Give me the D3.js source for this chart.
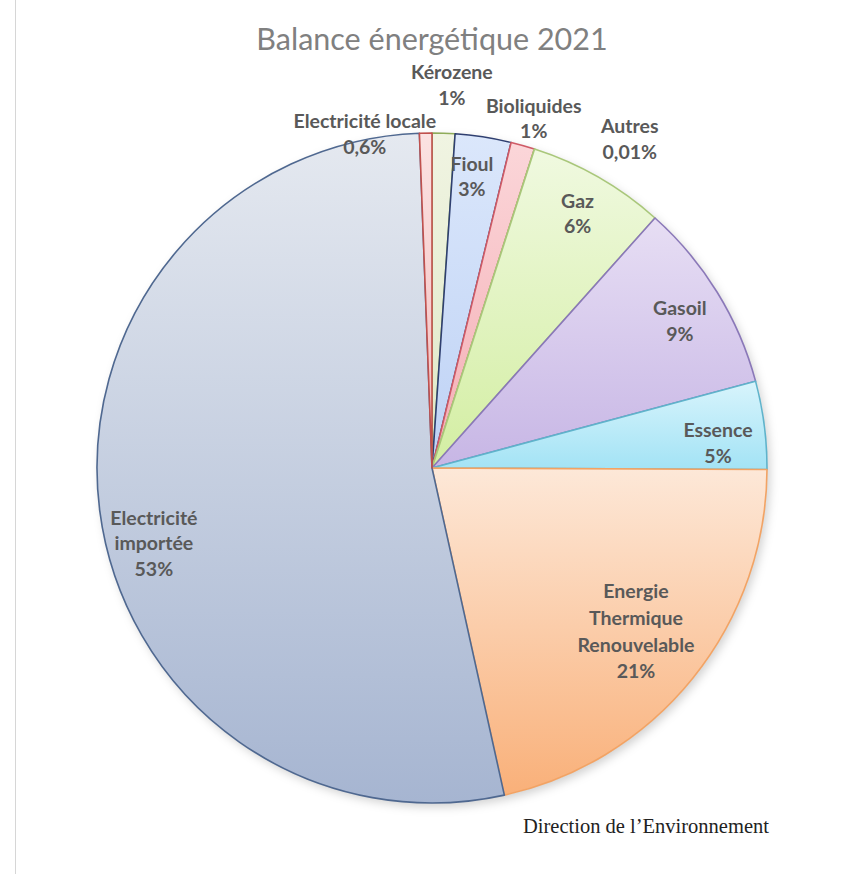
<!DOCTYPE html>
<html>
<head>
<meta charset="utf-8">
<script src="https://cdn.jsdelivr.net/npm/d3@7"></script>
<style>
  html, body { margin: 0; padding: 0; background: #ffffff; }
  svg { display: block; }
</style>
</head>
<body>
<svg id="chart" width="846" height="874"></svg>
<script>
// ---- data ----
const categories = ["Kérozene", "Fioul", "Bioliquides", "Autres", "Gaz", "Gasoil", "Essence",
  "Energie Thermique Renouvelable", "Electricité importée", "Electricité locale"];
const shares = [1.1, 2.7, 1.15, 0.01, 6.65, 9.25, 4.25, 21.5, 52.95, 0.6];
const percentLabels = ["1%", "3%", "1%", "0,01%", "6%", "9%", "5%", "21%", "53%", "0,6%"];
const nameLines = [["Kérozene"], ["Fioul"], ["Bioliquides"], ["Autres"], ["Gaz"], ["Gasoil"], ["Essence"],
  ["Energie", "Thermique", "Renouvelable"], ["Electricité", "importée"], ["Electricité locale"]];
const title = "Balance énergétique 2021";
const source = "Direction de l\u2019Environnement";

// ---- styles ----
const gradTop = ["#f0f4e2", "#dbe7fb", "#fbd6d9", "#eef7e0", "#f0f9e0", "#e7def4", "#d8f4fc", "#fde8d8", "#e5e9f0", "#fbe2e2"];
const gradBottom = ["#dfe8c6", "#bed2f5", "#f4adb4", "#d8efb0", "#d3eea2", "#c7b6e5", "#a3e3f5", "#f9b079", "#a6b5d1", "#f3bcbc"];
const strokes = ["#8fac5a", "#2f3f70", "#cf5a66", "#a9c77a", "#a9c77a", "#8a78b8", "#5fb3cb", "#f2a364", "#4f6890", "#c0504d"];
// label placement: angle offset (deg) from slice mid, radius factor
const labelPlace = [[1, 1.145], [-1, 0.878], [0.5, 1.087], [13.2, 1.146], [0, 0.875], [1, 0.86], [2.4, 0.857], [-0.2, 0.78], [-7.8, 0.86], [-10.3, 1.017]];

const W = 846, H = 874;
const cx = 432, cy = 468, R = 335;

const svg = d3.select("#chart");
const defs = svg.append("defs");

const shadow = defs.append("filter").attr("id", "shadow")
  .attr("x", "-10%").attr("y", "-10%").attr("width", "125%").attr("height", "125%");
shadow.append("feDropShadow").attr("dx", 3).attr("dy", 4).attr("stdDeviation", 5)
  .attr("flood-color", "#000").attr("flood-opacity", 0.18);

categories.forEach((c, i) => {
  const g = defs.append("linearGradient").attr("id", "g" + i)
    .attr("x1", 0).attr("y1", 0).attr("x2", 0).attr("y2", 1);
  g.append("stop").attr("offset", "0%").attr("stop-color", gradTop[i]);
  g.append("stop").attr("offset", "100%").attr("stop-color", gradBottom[i]);
});

// left border line
svg.append("line").attr("x1", 15.5).attr("x2", 15.5).attr("y1", 0).attr("y2", H)
  .attr("stroke", "#d6d6d6").attr("stroke-width", 1);

const data = categories.map((c, i) => ({ name: c, value: shares[i], i }));
const pie = d3.pie().sort(null).value(d => d.value).startAngle(0).endAngle(2 * Math.PI);
const arcs = pie(data);
const arc = d3.arc().innerRadius(0).outerRadius(R);

const gPie = svg.append("g").attr("transform", `translate(${cx},${cy})`);
gPie.append("circle").attr("r", R).attr("fill", "#fff").attr("filter", "url(#shadow)");
gPie.selectAll("path.slice").data(arcs).enter().append("path")
  .attr("class", "slice")
  .attr("d", arc)
  .attr("fill", d => `url(#g${d.data.i})`)
  .attr("stroke", d => strokes[d.data.i])
  .attr("stroke-width", 1.6)
  .attr("stroke-linejoin", "round");

// labels
const lh = 25.5;
arcs.forEach(d => {
  const i = d.data.i;
  const mid = (d.startAngle + d.endAngle) / 2 + labelPlace[i][0] * Math.PI / 180;
  const r = labelPlace[i][1] * R;
  const x = cx + r * Math.sin(mid);
  const y = cy - r * Math.cos(mid);
  const lines = nameLines[i].concat([percentLabels[i]]);
  const n = lines.length;
  const spacing = n > 3 ? 26.7 : lh;
  const t = svg.append("text")
    .attr("text-anchor", "middle")
    .attr("font-family", "Lato, 'Open Sans', sans-serif")
    .attr("font-weight", "bold")
    .attr("font-size", 19.5)
    .attr("fill", "#595959");
  lines.forEach((s, k) => {
    t.append("tspan").attr("x", x)
      .attr("y", y + (k - (n - 1) / 2) * spacing)
      .attr("dy", "0.36em")
      .text(s);
  });
});

// title
svg.append("text").attr("x", 432).attr("y", 50)
  .attr("text-anchor", "middle")
  .attr("font-family", "Lato, 'Open Sans', sans-serif")
  .attr("font-size", 30.5)
  .attr("fill", "#808080")
  .text(title);

// source
svg.append("text").attr("x", 646).attr("y", 833)
  .attr("text-anchor", "middle")
  .attr("font-family", "'Liberation Serif', 'DejaVu Serif', serif")
  .attr("font-size", 20.5)
  .attr("fill", "#222")
  .text(source);
</script>
</body>
</html>
